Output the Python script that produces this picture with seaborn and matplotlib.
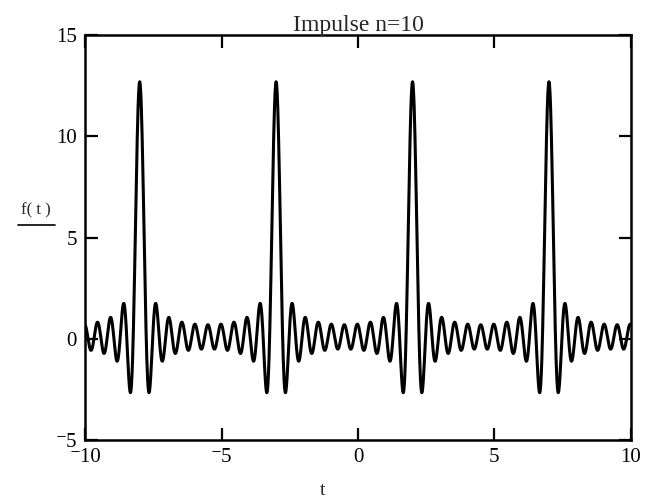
import numpy as np
import pandas as pd
import matplotlib.pyplot as plt
import seaborn as sns
from matplotlib.lines import Line2D

# Fourier series: 10 cosine harmonics of an impulse train
harmonics = [1, 2, 3, 4, 5, 6, 7, 8, 9, 10]
amplitudes = [1.2, 1.2, 1.2, 1.2, 1.2, 1.2, 1.2, 1.2, 1.2, 1.2]
offset = 0.7
period = 5.0
pulse_center = 2.0

x_ticks = [-10, -5, 0, 5, 10]
x_labels = ['\u207b10', '\u207b5', '0', '5', '10']
y_ticks = [-5, 0, 5, 10, 15]
y_labels = ['\u207b5', '0', '5', '10', '15']


def impulse_series(t):
    w = 2 * np.pi / period
    f = np.full_like(t, offset)
    for k, a in zip(harmonics, amplitudes):
        f += a * np.cos(k * w * (t - pulse_center))
    return f


t = np.linspace(-10, 10, 2001)
df = pd.DataFrame({'t': t, 'f': impulse_series(t)})

sns.set_style('white')
plt.rcParams['font.family'] = ['Liberation Serif', 'DejaVu Serif']

fig = plt.figure(figsize=(6.45, 5.03), dpi=100)
ax = fig.add_axes([0.132, 0.125, 0.846, 0.805])

sns.lineplot(data=df, x='t', y='f', ax=ax, color='black', linewidth=2.2)

ax.set_xlim(-10, 10)
ax.set_ylim(-5, 15)
ax.set_xticks(x_ticks)
ax.set_xticklabels(x_labels)
ax.set_yticks(y_ticks)
ax.set_yticklabels(y_labels)
ax.tick_params(direction='in', length=9, width=1.6, colors='black',
               top=True, right=True, bottom=True, left=True,
               labelsize=15, pad=6)
for s in ax.spines.values():
    s.set_visible(True)
    s.set_color('black')
    s.set_linewidth(1.8)

ax.set_xlabel('')
ax.set_ylabel('')
ax.set_title('Impulse n=10', fontsize=17, pad=3)

fig.text(0.5, 0.008, 't', ha='center', va='bottom', fontsize=14)
fig.text(0.055, 0.565, 'f( t )', ha='center', va='bottom', fontsize=12)
fig.add_artist(Line2D([0.028, 0.085], [0.553, 0.553], color='black', linewidth=1.2))

fig.savefig('out.png', dpi=100, facecolor='white')
